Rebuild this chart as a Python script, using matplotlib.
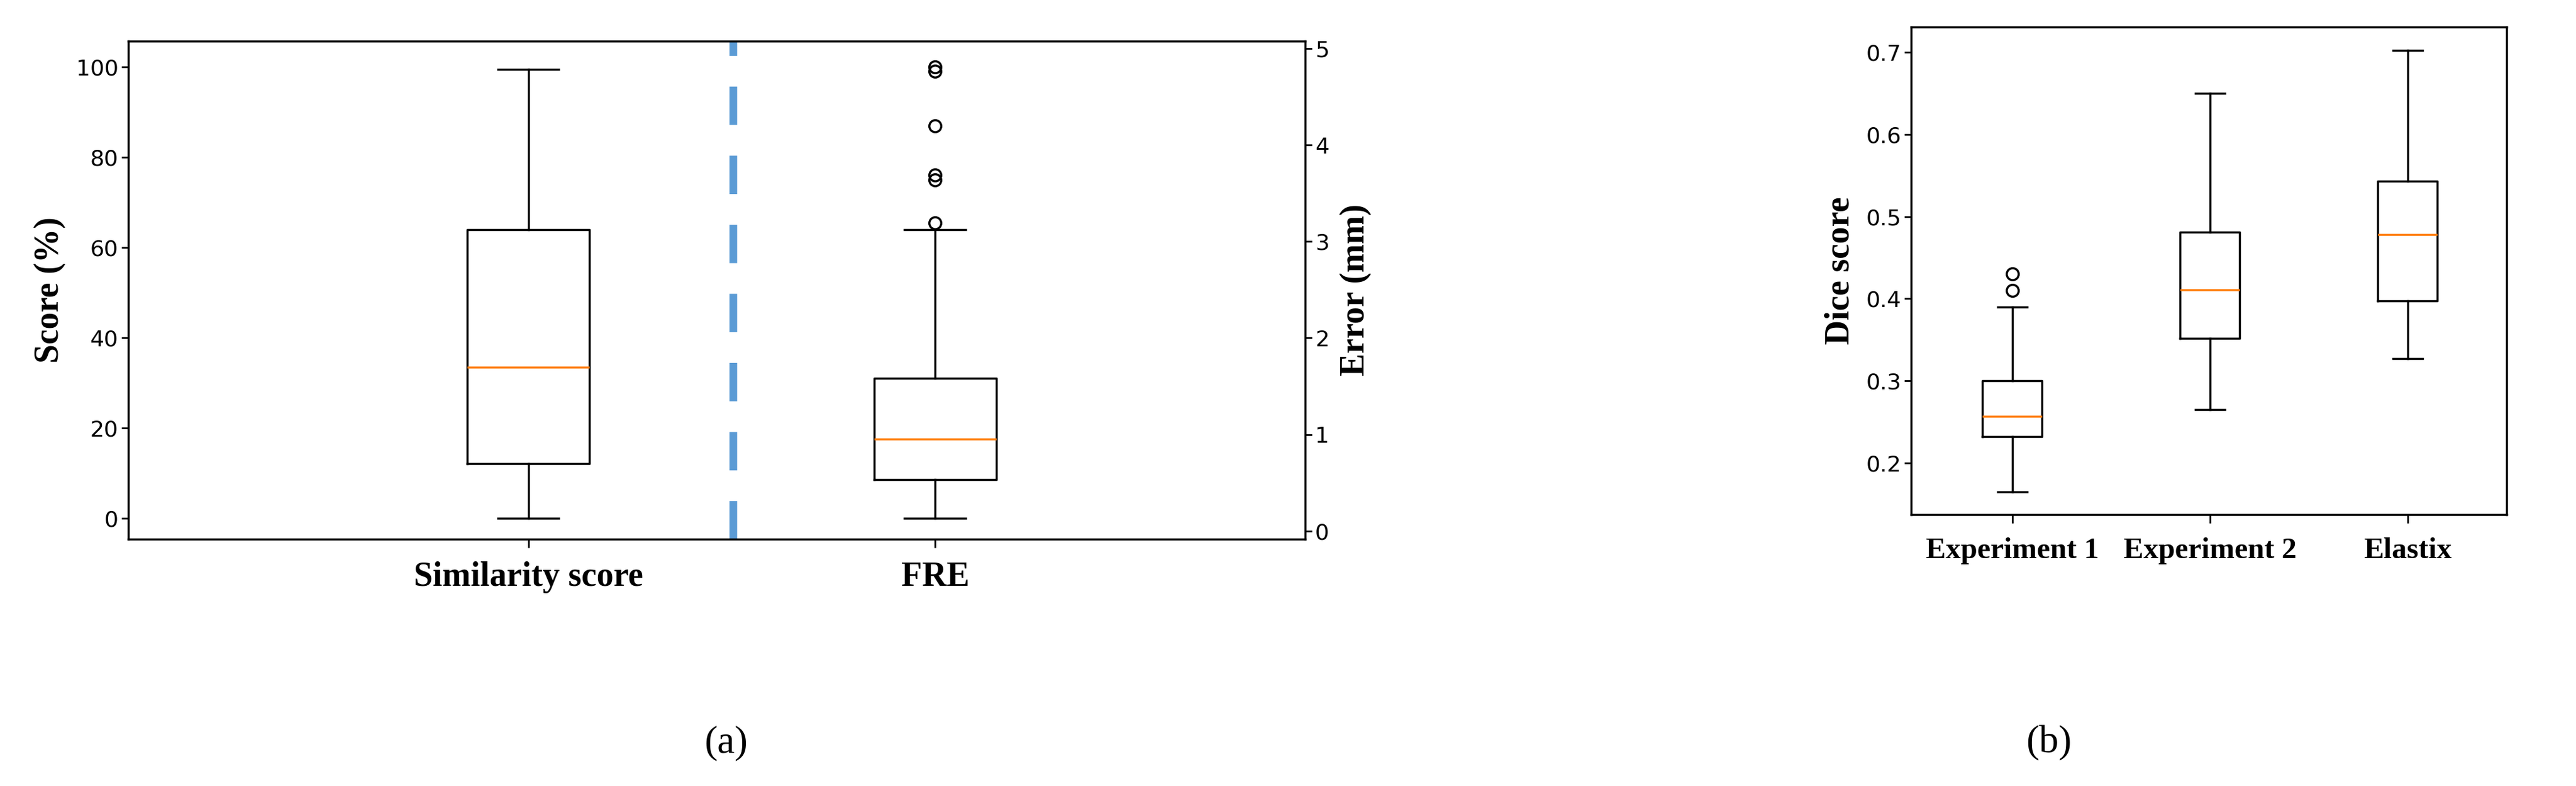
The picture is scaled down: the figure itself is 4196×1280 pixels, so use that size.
import matplotlib
matplotlib.use('Agg')
import matplotlib.pyplot as plt

# Panel (a): similarity score and FRE (FRE drawn on the % scale)
a_labels = ['Similarity score', 'FRE']
a_whislo = [0, 0]
a_q1 = [12, 8.5]
a_med = [33.5, 17.5]
a_q3 = [64, 31]
a_whishi = [99.5, 64]
a_fliers = [[], [65.5, 75, 76, 87, 99, 100]]

# Panel (b): dice scores
b_labels = ['Experiment 1', 'Experiment 2', 'Elastix']
b_whislo = [0.165, 0.265, 0.327]
b_q1 = [0.232, 0.352, 0.397]
b_med = [0.257, 0.411, 0.478]
b_q3 = [0.300, 0.481, 0.543]
b_whishi = [0.390, 0.650, 0.702]
b_fliers = [[0.41, 0.43], [], []]


def stats(labels, lo, q1, med, q3, hi, fl):
    return [dict(label=labels[i], whislo=lo[i], q1=q1[i], med=med[i], q3=q3[i],
                 whishi=hi[i], fliers=fl[i]) for i in range(len(labels))]


def style_axes(ax, ylab, xsize):
    ax.set_ylabel(ylab, fontsize=40, family='Liberation Serif', weight='bold', labelpad=12)
    ax.tick_params(axis='y', labelsize=26, length=8, width=2)
    ax.tick_params(axis='x', length=10, width=2, pad=16)
    for t in ax.get_xticklabels():
        t.set_fontsize(xsize)
        t.set_fontfamily('Liberation Serif')
        t.set_fontweight('bold')
    for s in ax.spines.values():
        s.set_linewidth(2.5)


box_kw = dict(widths=0.3, boxprops=dict(linewidth=2.5), whiskerprops=dict(linewidth=2.5),
              capprops=dict(linewidth=2.5), medianprops=dict(color='#ff7f0e', linewidth=2.5),
              flierprops=dict(markersize=14, markeredgewidth=2.5))

fig = plt.figure(figsize=(41.96, 12.8), dpi=100)

# ---- (a)
ax = fig.add_axes([0.0497, 0.314, 0.457, 0.634])
ax.bxp(stats(a_labels, a_whislo, a_q1, a_med, a_q3, a_whishi, a_fliers), **box_kw)
ax.set_xlim(0.016, 2.91)
ax.set_ylim(-4.7, 105.8)
ax.axvline(1.504, color='#5b9bd5', linewidth=9, linestyle=(0, (5, 4)))
style_axes(ax, 'Score (%)', 40)
ax2 = ax.twinx()
ax2.set_ylim(-0.085, 5.08)
ax2.set_yticks([0, 1, 2, 3, 4, 5])
ax2.tick_params(axis='y', labelsize=26, length=8, width=2)
ax2.set_ylabel('Error (mm)', fontsize=40, family='Liberation Serif', weight='bold', labelpad=12)

# ---- (b)
bx = fig.add_axes([0.742, 0.345, 0.231, 0.621])
bx.bxp(stats(b_labels, b_whislo, b_q1, b_med, b_q3, b_whishi, b_fliers), **box_kw)
bx.set_xlim(0.49, 3.5)
bx.set_ylim(0.137, 0.731)
bx.set_yticks([0.2, 0.3, 0.4, 0.5, 0.6, 0.7])
style_axes(bx, 'Dice score', 35)

fig.text(442 / 1568, 1 - 452 / 478, '(a)', fontsize=46, family='Liberation Serif', ha='center', va='center')
fig.text(1247 / 1568, 1 - 452 / 478, '(b)', fontsize=46, family='Liberation Serif', ha='center', va='center')

fig.savefig('out.png', dpi=100)
